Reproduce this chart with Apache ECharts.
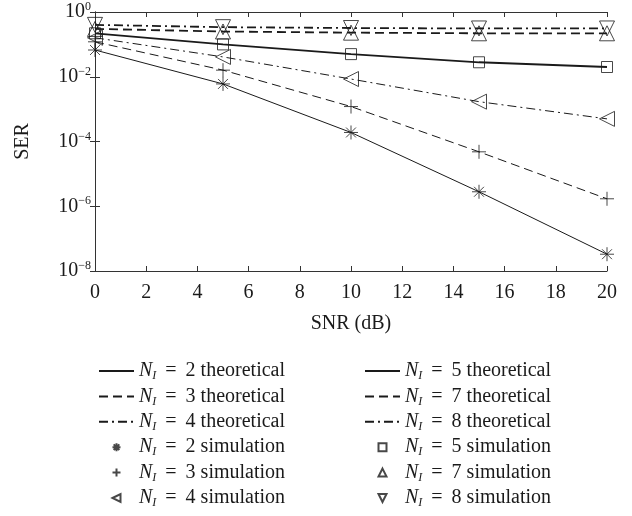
<!DOCTYPE html>
<html>
<head>
<meta charset="utf-8">
<script src="https://cdn.jsdelivr.net/npm/echarts@6/dist/echarts.min.js"></script>
<style>
  html, body { margin: 0; padding: 0; background: #fff; }
  #chart { width: 632px; height: 516px; }
</style>
</head>
<body>
<div id="chart"></div>
<script>
// SNR axis (dB)
const snr = [0, 5, 10, 15, 20]

// SER, one list per number of interferers
const ser2 = [0.067, 0.006, 1.9e-4, 2.8e-6, 3.3e-8]
const ser3 = [0.12, 0.016, 1.2e-3, 4.8e-5, 1.7e-6]
const ser4 = [0.16, 0.041, 8.5e-3, 1.7e-3, 5.0e-4]
const ser5 = [0.22, 0.10, 0.050, 0.028, 0.020]
const ser7 = [0.30, 0.25, 0.23, 0.22, 0.22]
const ser8 = [0.40, 0.34, 0.32, 0.31, 0.31]

const xTicks = [0, 2, 4, 6, 8, 10, 12, 14, 16, 18, 20]

const FONT = 'Liberation Serif'
const INK = '#1a1a1a'
const SIZE = 20

// marker outlines (matlab style)
const asterisk = 'path://M0,-10L0,10M-10,0L10,0M-7.07,-7.07L7.07,7.07M-7.07,7.07L7.07,-7.07'
const plus = 'path://M0,-10L0,10M-10,0L10,0'
const square = 'path://M0,0L10,0L10,10L0,10Z'
const triUp = 'path://M5,0L10,10L0,10Z'
const triDown = 'path://M0,0L10,0L5,10Z'
const triLeft = 'path://M0,5L10,0L10,10Z'

function pairs(values) {
  return snr.map((x, i) => [x, values[i]])
}

function theory(n, values, width, dash) {
  return {
    name: 'th' + n,
    type: 'line',
    data: pairs(values),
    symbol: 'none',
    lineStyle: { color: INK, width: width, type: dash },
    itemStyle: { color: INK },
    z: 2
  }
}

function simulation(n, values, symbol, size) {
  return {
    name: 'sim' + n,
    type: 'scatter',
    data: pairs(values),
    symbol: symbol,
    symbolSize: size,
    symbolKeepAspect: true,
    itemStyle: { color: 'rgba(255,255,255,0)', borderColor: INK, borderWidth: 1 },
    z: 3
  }
}

const series = [
  theory(2, ser2, 1, 'solid'),
  theory(3, ser3, 1, [9, 5]),
  theory(4, ser4, 1, [9, 4, 2, 4]),
  theory(5, ser5, 1.8, 'solid'),
  theory(7, ser7, 1.8, [9, 5]),
  theory(8, ser8, 1.8, [9, 4, 2, 4]),
  simulation(2, ser2, asterisk, 14),
  simulation(3, ser3, plus, 14),
  simulation(4, ser4, triLeft, 15),
  simulation(5, ser5, square, 11),
  simulation(7, ser7, triUp, 15),
  simulation(8, ser8, triDown, 15)
]

const richLabel = {
  t: { fontFamily: FONT, fontSize: SIZE, lineHeight: 22, color: INK },
  n: { fontFamily: FONT, fontSize: SIZE, lineHeight: 22, fontStyle: 'italic', color: INK },
  s: { fontFamily: FONT, fontSize: 12, lineHeight: 12, fontStyle: 'italic', verticalAlign: 'bottom', color: INK }
}

function legendText(name) {
  const kind = name.startsWith('th') ? 'theoretical' : 'simulation'
  const n = name.replace(/\D/g, '')
  return '{n|N}{s|I}{t| \u2009=\u2009 ' + n + ' ' + kind + '}'
}

function legendItem(name) {
  if (name.startsWith('th')) {
    // line only, hide the dot echarts puts on line legend icons
    return { name: name, itemStyle: { color: 'rgba(0,0,0,0)', borderWidth: 0, opacity: 0 } }
  }
  return { name: name }
}

function legend(left, names) {
  return {
    left: left,
    top: 356,
    orient: 'vertical',
    itemWidth: 35,
    itemHeight: 8,
    itemGap: 4.4,
    symbolKeepAspect: true,
    selectedMode: false,
    data: names.map(legendItem),
    formatter: legendText,
    textStyle: { rich: richLabel }
  }
}

const chart = echarts.init(document.getElementById('chart'))

chart.setOption({
  animation: false,
  backgroundColor: '#fff',
  grid: { left: 95, right: 25, top: 12, bottom: 245, containLabel: false, outerBoundsMode: 'none' },
  legend: [
    legend(93, ['th2', 'th3', 'th4', 'sim2', 'sim3', 'sim4']),
    legend(359, ['th5', 'th7', 'th8', 'sim5', 'sim7', 'sim8'])
  ],
  xAxis: [
    {
      type: 'value',
      min: 0,
      max: 20,
      interval: 2,
      name: 'SNR (dB)',
      nameLocation: 'middle',
      nameGap: 43,
      nameTextStyle: { fontFamily: FONT, fontSize: SIZE, color: INK },
      axisLine: { lineStyle: { color: '#333', width: 1 } },
      axisTick: { inside: true, length: 5, lineStyle: { color: '#333' } },
      axisLabel: {
        margin: 12,
        fontFamily: FONT,
        fontSize: SIZE,
        color: INK,
        formatter: (v) => (xTicks.includes(v) ? String(v) : '')
      },
      splitLine: { show: false }
    },
    {
      type: 'value',
      position: 'top',
      min: 0,
      max: 20,
      interval: 2,
      axisLine: { show: true, lineStyle: { color: '#333', width: 1 } },
      axisTick: { inside: true, length: 5, lineStyle: { color: '#333' } },
      axisLabel: { show: false },
      splitLine: { show: false }
    }
  ],
  yAxis: [
    {
      type: 'log',
      logBase: 10,
      min: 1e-8,
      max: 1,
      interval: 2,
      name: 'SER',
      nameLocation: 'middle',
      nameGap: 62,
      nameTextStyle: { fontFamily: FONT, fontSize: SIZE, color: INK },
      axisLine: { show: true, lineStyle: { color: '#333', width: 1 } },
      axisTick: { show: true, inside: true, length: 5, lineStyle: { color: '#333' } },
      axisLabel: {
        margin: 4,
        formatter: (v) => {
          const e = Math.round(Math.log10(v))
          return '{b|10}{e|' + (e < 0 ? '\u2212' + -e : e) + '}'
        },
        rich: {
          b: { fontFamily: FONT, fontSize: SIZE, lineHeight: 22, color: INK },
          e: { fontFamily: FONT, fontSize: 12, lineHeight: 12, verticalAlign: 'top', color: INK }
        }
      },
      splitLine: { show: false }
    },
    {
      type: 'log',
      logBase: 10,
      min: 1e-8,
      max: 1,
      interval: 2,
      position: 'right',
      axisLine: { show: true, lineStyle: { color: '#333', width: 1 } },
      axisTick: { show: true, inside: true, length: 5, lineStyle: { color: '#333' } },
      axisLabel: { show: false },
      splitLine: { show: false }
    }
  ],
  series: series
})
</script>
</body>
</html>
